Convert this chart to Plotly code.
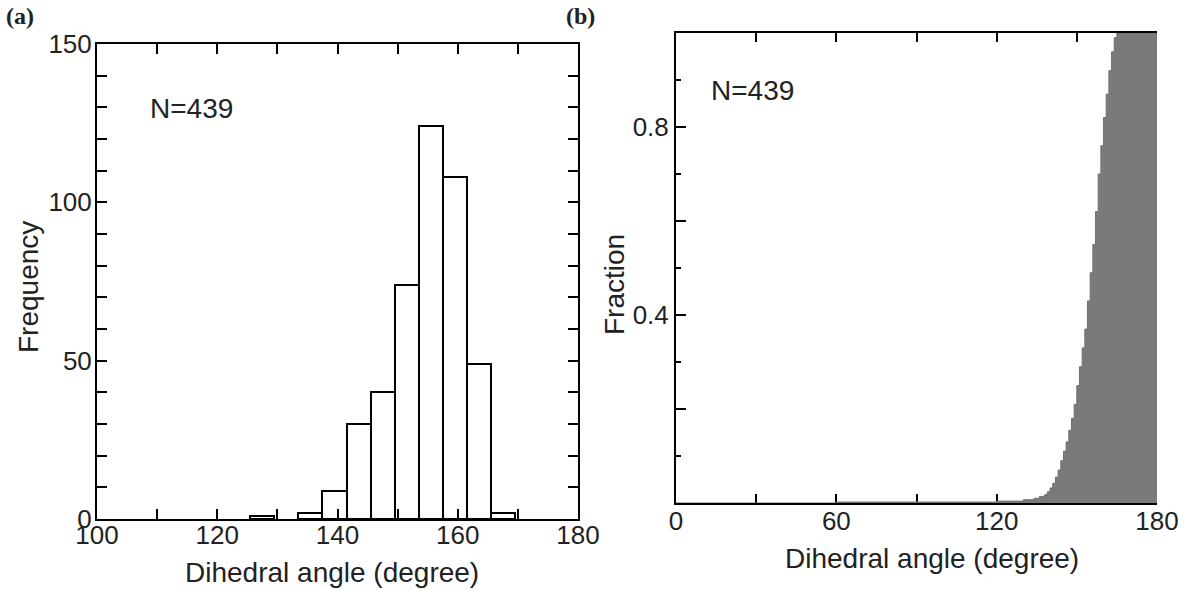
import plotly.graph_objects as go

# ---------------- data ----------------
# (a) histogram: bin centres (deg), counts
bin_centers = [127.5, 135.5, 139.5, 143.5, 147.5, 151.5, 155.5, 159.5, 163.5, 167.5]
counts = [1, 2, 9, 30, 40, 74, 124, 108, 49, 2]
bin_width = 4

# (b) cumulative fraction vs dihedral angle
cdf_angle = [0, 60, 120, 130, 134, 136, 138, 139, 140, 141, 142, 143, 144, 145, 146,
             147, 148, 149, 150, 151, 152, 153, 154, 155, 156, 157, 158, 159, 160,
             161, 162, 163, 164, 165, 180]
cdf_fraction = [0, 0.002, 0.004, 0.007, 0.01, 0.014, 0.018, 0.024, 0.032, 0.042, 0.055,
                0.07, 0.09, 0.11, 0.13, 0.155, 0.18, 0.21, 0.25, 0.29, 0.33, 0.37,
                0.43, 0.49, 0.55, 0.62, 0.70, 0.76, 0.82, 0.87, 0.92, 0.96, 0.99, 1.0, 1.0]

left_xticks = [100, 110, 120, 130, 140, 150, 160, 170, 180]
left_xlabels = ["100", "", "120", "", "140", "", "160", "", "180"]
left_yticks = list(range(0, 151, 10))
left_ylabels = [str(v) if v % 50 == 0 else "" for v in left_yticks]

right_xticks = [0, 30, 60, 90, 120, 150, 180]
right_xlabels = ["0", "", "60", "", "120", "", "180"]
right_yticks = [0, 0.2, 0.4, 0.6, 0.8, 1.0]
right_ylabels = ["", "", "0.4", "", "0.8", ""]

# ---------------- layout helpers ----------------
W, H = 1196, 590


def dom_x(x0, x1):
    return [x0 / W, x1 / W]


def dom_y(top, bottom):
    return [1 - bottom / H, 1 - top / H]


FONT = "Liberation Sans, Arial, sans-serif"
TXT = "#222222"

fig = go.Figure()

fig.add_trace(go.Bar(
    x=bin_centers, y=counts, width=bin_width,
    marker=dict(color="white", line=dict(color="black", width=2)),
    xaxis="x", yaxis="y", showlegend=False,
))

fig.add_trace(go.Scatter(
    x=cdf_angle, y=cdf_fraction, mode="lines", line_shape="hv",
    line=dict(color="#6f6f6f", width=1), fill="tozeroy", fillcolor="#7a7a7a",
    xaxis="x2", yaxis="y2", showlegend=False,
))

axis_common = dict(
    showline=True, linecolor="black", linewidth=2, ticks="inside",
    tickcolor="black", tickwidth=1.5, showgrid=False, zeroline=False,
    automargin=False,
    tickfont=dict(family=FONT, size=26, color=TXT),
)


def note(text, x, y, size=28, family=FONT, anchor="left", angle=0):
    return dict(text=text, x=x / W, y=1 - y / H, xref="paper", yref="paper",
                xanchor=anchor, yanchor="middle", showarrow=False, textangle=angle,
                font=dict(family=family, size=size, color=TXT))


fig.update_layout(
    width=W, height=H,
    margin=dict(l=0, r=0, t=0, b=0, autoexpand=False),
    paper_bgcolor="white", plot_bgcolor="white",
    bargap=0,
    xaxis=dict(
        domain=dom_x(97, 578), range=[100, 180], tickmode="array",
        tickvals=left_xticks, ticktext=left_xlabels, ticklen=10, mirror="ticks",
        anchor="y", ticklabelstandoff=-8, **axis_common,
    ),
    yaxis=dict(
        domain=dom_y(44, 519), range=[0, 150], tickmode="array",
        tickvals=left_yticks, ticktext=left_ylabels, ticklen=10, mirror="ticks",
        anchor="x", ticklabelstandoff=-2, **axis_common,
    ),
    xaxis2=dict(
        domain=dom_x(676, 1157), range=[0, 180], tickmode="array",
        tickvals=right_xticks, ticktext=right_xlabels, ticklen=9, mirror="ticks",
        anchor="y2", layer="below traces", ticklabelstandoff=-6, **axis_common,
    ),
    yaxis2=dict(
        domain=dom_y(33, 503), range=[0, 1], tickmode="array",
        tickvals=right_yticks, ticktext=right_ylabels, ticklen=10,
        minor=dict(dtick=0.1, ticks="inside", ticklen=5, tickcolor="black", tickwidth=1.5),
        anchor="x2", layer="below traces", ticklabelstandoff=0, **axis_common,
    ),
    annotations=[
        note("Dihedral angle (degree)", 332, 572, anchor="center"),
        note("Dihedral angle (degree)", 932, 558, anchor="center"),
        note("Frequency", 28, 287, anchor="center", angle=-90),
        note("Fraction", 614, 285, anchor="center", angle=-90),
        note("N=439", 148, 109),
        note("N=439", 709, 90),
        note("<b>(a)</b>", 4, 16, size=24, family="Liberation Serif, Times New Roman, serif"),
        note("<b>(b)</b>", 564, 16, size=24, family="Liberation Serif, Times New Roman, serif"),
    ],
)

fig.write_html("out.html")
